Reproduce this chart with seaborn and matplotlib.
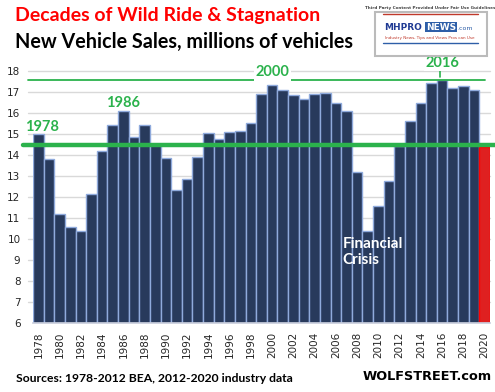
"""
New vehicle sales 1978-2020, wolfstreet style bar chart
"""
import matplotlib
matplotlib.use("Agg")
import matplotlib.pyplot as plt
import matplotlib.patches as patches
import seaborn as sns

years = list(range(1978, 2021))
sales = [15.0, 13.8, 11.2, 10.6, 10.4, 12.15, 14.2, 15.45, 16.1, 14.85,
         15.45, 14.5, 13.85, 12.35, 12.85, 13.9, 15.05, 14.75, 15.1, 15.15,
         15.55, 16.9, 17.35, 17.1, 16.85, 16.65, 16.9, 16.95, 16.5, 16.1,
         13.2, 10.4, 11.6, 12.75, 14.45, 15.6, 16.5, 17.45, 17.55, 17.2,
         17.3, 17.1, 14.4]
tick_years = years[::2]
peak_labels = {"1978": (0.35, 15.35), "1986": (8.0, 16.48),
               "2000": (22.0, 17.95), "2016": (38.0, 18.38)}
avg_level = 14.48
top_level = 17.56

NAVY = "#203864"
GREEN = "#2BB24C"

sns.set_theme(style="white")
plt.rcParams["font.family"] = ["DejaVu Sans"]

fig = plt.figure(figsize=(4.95, 3.92), dpi=100)
W, H = 495, 392
ax = fig.add_axes([33 / W, 1 - 323.3 / H, 457 / W, (323.3 - 71) / H])

colors = [NAVY] * (len(years) - 1) + ["#FF0000"]
sns.barplot(x=[str(y) for y in years], y=sales, hue=[str(y) for y in years],
            palette=colors, legend=False, width=1.0, ax=ax,
            edgecolor="#8FAADC", linewidth=1.0, zorder=2)
# red bar without the blue outline
ax.patches[-1].set_edgecolor("#FF0000")

ax.set_ylim(6, 18)
ax.set_xlim(-0.5, len(years) - 0.5)
ax.set_yticks(range(6, 19))
ax.tick_params(axis="y", labelsize=7.5, pad=9, length=0)
ax.set_xticks(range(0, len(years), 2))
ax.set_xticklabels([str(y) for y in tick_years], rotation=90, fontsize=7.5)
ax.tick_params(axis="x", pad=6, length=0)
ax.set_xlabel("")
ax.set_ylabel("")
for s in ["top", "right", "left"]:
    ax.spines[s].set_visible(False)
ax.spines["bottom"].set_color("#C9CEDD")

# grid lines
for g in range(7, 19):
    ax.axhline(g, xmin=-0.011, xmax=1.0, color="#D9D9D9", lw=1, zorder=0,
               clip_on=False)

ax.axhline(avg_level, xmin=-0.022, xmax=1.011, color=GREEN, lw=3.2,
           zorder=3, clip_on=False)
ax.axhline(top_level, xmin=-0.011, xmax=0.99, color=GREEN, lw=1.3,
           zorder=3, clip_on=False)
ax.plot([37.8, 37.8], [17.72, 18.19], color=GREEN, lw=1.2, clip_on=False)

for lab, (xx, yy) in peak_labels.items():
    ax.text(xx, yy, lab, color=GREEN, fontsize=10.5, fontweight="bold",
            family="Lato", ha="center", va="center", clip_on=False, zorder=4,
            bbox=dict(boxstyle="square,pad=0.1", fc="white", ec="none")
            if lab in ("2000", "2016") else None)

ax.text(28.6, 9.4, "Financial\nCrisis", color="white", fontsize=11,
        fontweight="bold", family="Lato", ha="left", va="center",
        linespacing=1.15, zorder=4)

# titles
fig.text(15 / W, 1 - 16 / H, "Decades of Wild Ride & Stagnation",
         color="#FF0000", fontsize=14, fontweight="bold", family="Lato",
         ha="left", va="center")
fig.text(15 / W, 1 - 42 / H, "New Vehicle Sales, millions of vehicles",
         color="black", fontsize=14.2, fontweight="bold", family="Lato",
         ha="left", va="center")

# footer
fig.text(16 / W, 1 - 378 / H, "Sources: 1978-2012 BEA, 2012-2020 industry data",
         color="black", fontsize=8.7, fontweight="bold", family="Lato",
         ha="left", va="center")
fig.text(492 / W, 1 - 377 / H, "WOLFSTREET.com", color="black", fontsize=9.3,
         fontweight="bold", family="DejaVu Sans", ha="right", va="center")

# logo box
fig.patches.append(patches.Rectangle((375 / W, 1 - 56 / H), 112 / W, 44 / H,
                                     transform=fig.transFigure, fc="white",
                                     ec="#BBBBBB", lw=1.5))
fig.text(430 / W, 1 - 7.5 / H, "Third Party Content Provided Under Fair Use Guidelines",
         fontsize=3.0, fontweight="bold", color="#444444", ha="center", va="center")
fig.lines.append(plt.Line2D([383 / W, 478 / W], [1 - 14 / H, 1 - 14 / H],
                            transform=fig.transFigure, color="#C0392B", lw=1))
fig.text(384 / W, 1 - 27 / H, "MHPRO", fontsize=6.5, fontweight="bold",
         color="#1F3A93", ha="left", va="center")
fig.text(426 / W, 1 - 27 / H, "NEWS", fontsize=6.5, fontweight="bold",
         color="white", ha="left", va="center",
         bbox=dict(boxstyle="square,pad=0.1", fc="#2E5FA8", ec="none"))
fig.text(457 / W, 1 - 29 / H, ".com", fontsize=4.5, color="#2E5FA8",
         ha="left", va="center")
fig.text(430 / W, 1 - 38 / H, "Industry News, Tips and Views Pros can Use",
         fontsize=3, color="#C0392B", ha="center", va="center")
fig.lines.append(plt.Line2D([383 / W, 478 / W], [1 - 43 / H, 1 - 43 / H],
                            transform=fig.transFigure, color="#2E5FA8", lw=1))

fig.savefig("out.png", dpi=100)
